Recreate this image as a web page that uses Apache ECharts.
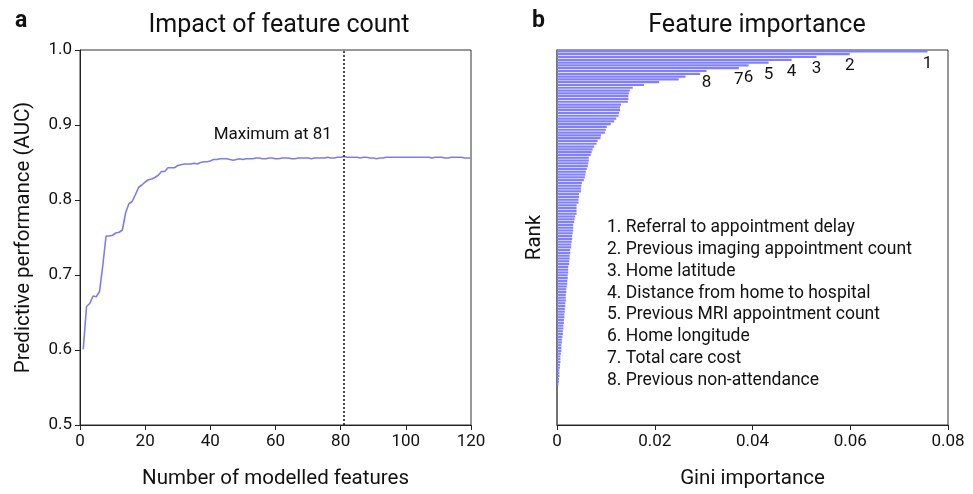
<!DOCTYPE html>
<html>
<head>
<meta charset="utf-8">
<script src="https://cdn.jsdelivr.net/npm/echarts@6/dist/echarts.min.js"></script>
<style>html,body{margin:0;padding:0;background:#fff;}#c{width:973px;height:494px;}</style>
</head>
<body>
<div id="c"></div>
<script>
// ---- Panel a: AUC vs number of modelled features ----
var featureCounts = [];
for (var i = 1; i <= 120; i++) featureCounts.push(i);
var auc = [
0.601,0.658,0.662,0.672,0.671,0.678,0.713,0.752,0.752,0.753,
0.756,0.757,0.760,0.783,0.795,0.798,0.807,0.817,0.820,0.824,
0.827,0.828,0.830,0.833,0.838,0.838,0.843,0.843,0.843,0.846,
0.847,0.848,0.848,0.848,0.849,0.848,0.850,0.851,0.851,0.852,
0.854,0.854,0.855,0.855,0.855,0.854,0.853,0.854,0.855,0.854,
0.855,0.855,0.855,0.856,0.856,0.855,0.855,0.856,0.856,0.855,
0.855,0.856,0.856,0.856,0.855,0.855,0.856,0.856,0.856,0.856,
0.855,0.856,0.856,0.856,0.856,0.857,0.856,0.856,0.857,0.857,
0.858,0.857,0.857,0.857,0.857,0.856,0.857,0.857,0.856,0.856,
0.855,0.856,0.856,0.857,0.857,0.857,0.857,0.857,0.857,0.857,
0.857,0.857,0.857,0.857,0.857,0.857,0.857,0.856,0.857,0.857,
0.857,0.856,0.856,0.857,0.857,0.857,0.857,0.856,0.856,0.856
];
var maxFeature = 81;
var xTicksA = [0, 20, 40, 60, 80, 100, 120];
var yTicksA = [0.5, 0.6, 0.7, 0.8, 0.9, 1.0];

// ---- Panel b: Gini importance by rank ----
var giniImportance = [
0.0758,0.0599,0.0531,0.0480,0.0433,0.0392,0.0372,0.0306,0.0293,0.0263,
0.0249,0.0209,0.0178,0.0155,0.0149,0.0147,0.0146,0.0146,0.0145,0.0131,
0.0129,0.0129,0.0127,0.0126,0.0121,0.0117,0.0110,0.0102,0.0100,0.0098,
0.0090,0.0089,0.0083,0.0081,0.0076,0.0073,0.0071,0.0069,0.0065,0.0065,
0.0064,0.0063,0.0061,0.0059,0.0058,0.0057,0.0055,0.0051,0.0050,0.0049,
0.0049,0.0045,0.0045,0.0044,0.0044,0.0040,0.0040,0.0040,0.0040,0.0037,
0.0036,0.0035,0.0033,0.0033,0.0033,0.0032,0.0031,0.0031,0.0030,0.0029,
0.0029,0.0027,0.0027,0.0026,0.0026,0.0025,0.0025,0.0023,0.0023,0.0023,
0.0022,0.0022,0.0021,0.0021,0.0020,0.0019,0.0019,0.0018,0.0018,0.0018,
0.0017,0.0017,0.0016,0.0016,0.0015,0.0015,0.0014,0.0014,0.0013,0.0013,
0.0012,0.0012,0.0011,0.0010,0.0010,0.0009,0.0009,0.0009,0.0008,0.0007,
0.0007,0.0007,0.0006,0.0006,0.0005,0.0005,0.0005,0.0004,0.0004,0.0003
];
var totalRanks = 134;
var ranks = [];
for (var r = 1; r <= totalRanks; r++) ranks.push(String(r));
var topFeatureNames = [
"Referral to appointment delay",
"Previous imaging appointment count",
"Home latitude",
"Distance from home to hospital",
"Previous MRI appointment count",
"Home longitude",
"Total care cost",
"Previous non-attendance"
];
var xTicksB = [0, 0.02, 0.04, 0.06, 0.08];

var FONT = 'Roboto, "DejaVu Sans", sans-serif';
var lineColor = '#7c7cf2';
var barColor = '#8080ff';
var axisColor = '#222';

var lineData = featureCounts.map(function (f, i) { return [f, auc[i]]; });
var barData = giniImportance.map(function (v, i) {
  if (i < topFeatureNames.length) {
    return {
      value: v,
      label: {
        show: true, position: 'right', distance: 0, align: 'center',
        offset: [0, 12], formatter: String(i + 1),
        fontSize: 17, color: '#111', fontFamily: FONT
      }
    };
  }
  return v;
});

var legendText = topFeatureNames.map(function (n, i) { return (i + 1) + '. ' + n; }).join('\n');

var chart = echarts.init(document.getElementById('c'), null, { renderer: 'canvas' });
chart.setOption({
  animation: false,
  backgroundColor: '#fff',
  textStyle: { fontFamily: FONT },
  title: [
    { text: 'Impact of feature count', left: 274, top: 8, textAlign: 'center',
      textStyle: { fontSize: 25, fontWeight: 'normal', color: '#111', fontFamily: FONT } },
    { text: 'Feature importance', left: 752, top: 8, textAlign: 'center',
      textStyle: { fontSize: 25, fontWeight: 'normal', color: '#111', fontFamily: FONT } },
    { text: 'a', left: 10, top: 5, textStyle: { fontSize: 23, fontWeight: 'bold', color: '#111', fontFamily: FONT } },
    { text: 'b', left: 527, top: 5, textStyle: { fontSize: 23, fontWeight: 'bold', color: '#111', fontFamily: FONT } }
  ],
  grid: [
    { left: 80, top: 50, width: 391, height: 382, show: true, borderColor: '#333', borderWidth: 1, backgroundColor: 'transparent' },
    { left: 557, top: 50, width: 391, height: 382, show: true, borderColor: '#333', borderWidth: 1, backgroundColor: 'transparent' }
  ],
  xAxis: [
    { type: 'value', gridIndex: 0, min: 0, max: 120, interval: 20,
      name: 'Number of modelled features', nameLocation: 'middle', nameGap: 43,
      nameTextStyle: { fontSize: 20.5, color: '#111', fontFamily: FONT },
      axisLine: { show: true, lineStyle: { color: axisColor } },
      axisTick: { show: true, length: 5, lineStyle: { color: axisColor } },
      axisLabel: { fontSize: 17, color: '#111', margin: 8, fontFamily: FONT },
      splitLine: { show: false } },
    { type: 'value', gridIndex: 1, min: 0, max: 0.08, interval: 0.02,
      name: 'Gini importance', nameLocation: 'middle', nameGap: 43,
      nameTextStyle: { fontSize: 20.5, color: '#111', fontFamily: FONT },
      axisLine: { show: true, lineStyle: { color: axisColor } },
      axisTick: { show: true, length: 5, lineStyle: { color: axisColor } },
      axisLabel: { fontSize: 17, color: '#111', margin: 8, fontFamily: FONT,
        formatter: function (v) { return v === 0 ? '0' : v.toFixed(2); } },
      splitLine: { show: false } }
  ],
  yAxis: [
    { type: 'value', gridIndex: 0, min: 0.5, max: 1.0, interval: 0.1,
      name: 'Predictive performance (AUC)', nameLocation: 'middle', nameGap: 46,
      nameTextStyle: { fontSize: 20.5, color: '#111', fontFamily: FONT },
      axisLine: { show: true, lineStyle: { color: axisColor } },
      axisTick: { show: true, length: 5, lineStyle: { color: axisColor } },
      axisLabel: { fontSize: 17, color: '#111', margin: 8, fontFamily: FONT,
        formatter: function (v) { return v.toFixed(1); } },
      splitLine: { show: false } },
    { type: 'category', gridIndex: 1, data: ranks, inverse: true,
      name: 'Rank', nameLocation: 'middle', nameGap: 12,
      nameTextStyle: { fontSize: 20.5, color: '#111', fontFamily: FONT },
      axisLine: { show: true, lineStyle: { color: '#666', width: 1.5 } },
      axisTick: { show: false }, axisLabel: { show: false }, splitLine: { show: false } }
  ],
  series: [
    { type: 'line', xAxisIndex: 0, yAxisIndex: 0, data: lineData, showSymbol: false, symbol: 'none',
      lineStyle: { color: lineColor, width: 1.6 }, z: 3,
      markLine: { silent: true, symbol: ['none', 'none'],
        lineStyle: { color: '#111', type: [2, 2], width: 1.5 },
        label: { show: false },
        data: [{ xAxis: maxFeature }] },
      markPoint: { silent: true, symbol: 'circle', symbolSize: 0,
        data: [{ coord: [77.3, 0.8874], value: 'Maximum at ' + maxFeature }],
        label: { show: true, position: 'left', distance: 0, formatter: 'Maximum at ' + maxFeature,
          fontSize: 17, color: '#111', fontFamily: FONT } } },
    { type: 'bar', xAxisIndex: 1, yAxisIndex: 1, data: barData,
      itemStyle: { color: barColor }, barCategoryGap: '22%', z: 2 }
  ],
  graphic: [
    { type: 'text', left: 607, top: 217,
      style: { text: legendText, fontSize: 17.5, lineHeight: 21.8, fill: '#111', fontFamily: FONT } }
  ]
});
</script>
</body>
</html>
